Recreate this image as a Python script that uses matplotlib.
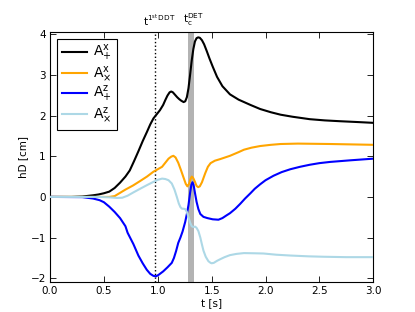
import matplotlib
matplotlib.use("Agg")
import matplotlib.pyplot as plt
import matplotlib.transforms as mtransforms

# ---- data ----
t_px = [0.0, 0.2, 0.3, 0.4, 0.45, 0.5, 0.55, 0.6, 0.65, 0.7, 0.74, 0.78, 0.82, 0.86,
        0.9, 0.93, 0.96, 0.99, 1.02, 1.05, 1.07, 1.09, 1.11, 1.125, 1.14, 1.16, 1.18,
        1.2, 1.22, 1.24, 1.255, 1.27, 1.285, 1.30, 1.315, 1.33, 1.345, 1.36, 1.375,
        1.39, 1.41, 1.43, 1.455, 1.48, 1.51, 1.55, 1.6, 1.67, 1.75, 1.86, 1.95, 2.05,
        2.14, 2.25, 2.41, 2.55, 2.69, 2.85, 3.0]
y_px = [0.0, 0.0, 0.01, 0.04, 0.06, 0.09, 0.13, 0.22, 0.35, 0.5, 0.65, 0.88, 1.12, 1.37,
        1.6, 1.78, 1.93, 2.03, 2.13, 2.26, 2.38, 2.49, 2.57, 2.59, 2.57, 2.51, 2.45,
        2.4, 2.36, 2.33, 2.35, 2.45, 2.67, 3.0, 3.35, 3.63, 3.82, 3.9, 3.92,
        3.91, 3.85, 3.75, 3.58, 3.40, 3.2, 2.95, 2.72, 2.52, 2.39, 2.26, 2.16, 2.08,
        2.02, 1.97, 1.91, 1.88, 1.86, 1.84, 1.82]

t_xx = [0.0, 0.55, 0.6, 0.65, 0.7, 0.77, 0.836, 0.9, 0.96, 1.0, 1.04, 1.07, 1.1, 1.125,
        1.145, 1.165, 1.19, 1.215, 1.24, 1.26, 1.275, 1.29, 1.305, 1.316, 1.33, 1.345,
        1.36, 1.375, 1.39, 1.41, 1.44, 1.465, 1.49, 1.53, 1.58, 1.67, 1.75, 1.8, 1.87,
        1.95, 2.05, 2.14, 2.3, 2.6, 2.8, 3.0]
y_xx = [0.0, 0.0, 0.02, 0.1, 0.18, 0.28, 0.39, 0.5, 0.62, 0.68, 0.74, 0.84, 0.94, 0.99,
        1.01, 0.97, 0.84, 0.66, 0.47, 0.32, 0.26, 0.32, 0.45, 0.5, 0.46, 0.37,
        0.27, 0.24, 0.26, 0.36, 0.58, 0.74, 0.83, 0.89, 0.93, 1.01, 1.1, 1.16, 1.21,
        1.25, 1.28, 1.30, 1.31, 1.30, 1.29, 1.28]

t_zp = [0.0, 0.3, 0.4, 0.46, 0.5, 0.55, 0.6, 0.65, 0.7, 0.72, 0.774, 0.82, 0.86, 0.898,
        0.93, 0.96, 0.985, 1.01, 1.05, 1.09, 1.13, 1.15, 1.17, 1.19, 1.21, 1.23, 1.254,
        1.27, 1.285, 1.3, 1.312, 1.322, 1.332, 1.345, 1.36, 1.377, 1.395, 1.424, 1.46,
        1.51, 1.563, 1.6, 1.64, 1.67, 1.72, 1.765, 1.81, 1.86, 1.9, 1.95, 2.0, 2.074,
        2.15, 2.23, 2.32, 2.41, 2.5, 2.6, 2.79, 3.0]
y_zp = [0.0, -0.005, -0.04, -0.08, -0.13, -0.24, -0.37, -0.52, -0.72, -0.88, -1.16, -1.44,
        -1.63, -1.79, -1.89, -1.94, -1.95, -1.91, -1.83, -1.73, -1.62, -1.5, -1.33,
        -1.13, -1.0, -0.85, -0.62, -0.42, -0.2, 0.1, 0.3, 0.36, 0.3, 0.1, -0.12, -0.3,
        -0.42, -0.49, -0.52, -0.55, -0.56, -0.52, -0.45, -0.4, -0.29, -0.17, -0.04,
        0.09, 0.2, 0.31, 0.41, 0.52, 0.61, 0.68, 0.74, 0.79, 0.83, 0.86, 0.9, 0.94]

t_zx = [0.0, 0.45, 0.55, 0.62, 0.67, 0.72, 0.78, 0.836, 0.9, 0.96, 1.0, 1.04, 1.07, 1.1,
        1.13, 1.155, 1.177, 1.195, 1.21, 1.225, 1.24, 1.255, 1.27, 1.285, 1.30, 1.315,
        1.33, 1.347, 1.36, 1.377, 1.395, 1.41, 1.424, 1.445, 1.47, 1.49, 1.50, 1.52,
        1.55, 1.58, 1.62, 1.67, 1.73, 1.8, 1.9, 1.98, 2.1, 2.23, 2.4, 2.54, 2.75, 3.0]
y_zx = [0.0, 0.0, -0.01, -0.025, -0.02, 0.03, 0.12, 0.2, 0.29, 0.37, 0.42, 0.45, 0.44,
        0.41, 0.33, 0.18, 0.0, -0.16, -0.25, -0.29, -0.29, -0.3, -0.37, -0.5, -0.63,
        -0.72, -0.74, -0.73, -0.76, -0.84, -1.0, -1.17, -1.32, -1.47, -1.58, -1.62,
        -1.63, -1.62, -1.57, -1.53, -1.48, -1.43, -1.4, -1.38, -1.385, -1.39, -1.42,
        -1.44, -1.46, -1.47, -1.48, -1.48]

labels = [r'A$^{\mathrm{x}}_{+}$', r'A$^{\mathrm{x}}_{\times}$',
          r'A$^{\mathrm{z}}_{+}$', r'A$^{\mathrm{z}}_{\times}$']
colors = ['black', 'orange', 'blue', 'lightblue']

t_ddt = 0.97
t_det = (1.28, 1.34)
x_ticks = [0.0, 0.5, 1.0, 1.5, 2.0, 2.5, 3.0]
y_ticks = [-2, -1, 0, 1, 2, 3, 4]

# ---- figure ----
plt.rcParams['font.family'] = ['DejaVu Sans']
plt.rcParams['mathtext.fontset'] = 'dejavusans'
fig = plt.figure(figsize=(4.15, 3.12), dpi=100)
ax = fig.add_axes([0.1205, 0.0975, 0.779, 0.801])

ax.axvspan(t_det[0], t_det[1], color='0.7', lw=0, zorder=1)
ax.axvline(t_ddt, color='black', ls=':', lw=1.0, zorder=2)

series = [(t_px, y_px), (t_xx, y_xx), (t_zp, y_zp), (t_zx, y_zx)]
for (tt, yy), c, lab in zip(series, colors, labels):
    ax.plot(tt, yy, color=c, lw=1.5, label=lab, zorder=3,
            solid_joinstyle='round')

ax.set_xlim(0, 3)
ax.set_ylim(-2.08, 4.06)
ax.set_xticks(x_ticks)
ax.set_xticklabels(['%.1f' % v for v in x_ticks])
ax.set_yticks(y_ticks)
ax.tick_params(direction='in', top=True, right=True, length=4, width=0.6,
               labelsize=7.5, pad=3)
for s in ax.spines.values():
    s.set_linewidth(0.8)
ax.set_xlabel('t [s]', fontsize=7.5, labelpad=2)
ax.set_ylabel('hD [cm]', fontsize=7.5, labelpad=2)

trans = mtransforms.blended_transform_factory(ax.transData, ax.transAxes)
ax.text(1.01, 1.015, r'$\mathrm{t}^{\mathrm{1^{st}\,DDT}}$', transform=trans,
        ha='center', va='bottom', fontsize=7.5)
ax.text(1.33, 1.015, r'$\mathrm{t}_\mathrm{c}^{\mathrm{DET}}$', transform=trans,
        ha='center', va='bottom', fontsize=7.5)

leg = ax.legend(loc='upper left', fontsize=10, handlelength=1.8, labelspacing=0.06,
                borderpad=0.35, handletextpad=0.45, fancybox=False, framealpha=1,
                edgecolor='black', borderaxespad=0.5)
leg.get_frame().set_linewidth(0.8)

fig.savefig('out.png', dpi=100)
